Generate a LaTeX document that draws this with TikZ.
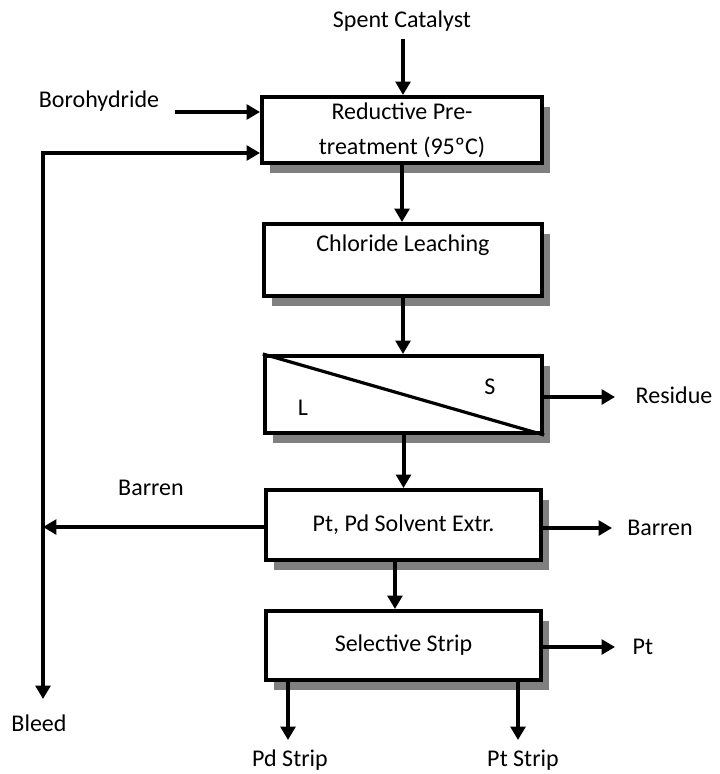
\documentclass[tikz,border=0pt]{standalone}
\usepackage{fontspec}
\setmainfont{Carlito}
\usetikzlibrary{arrows.meta,positioning,calc,shadows}
\definecolor{ink}{HTML}{000000}
\definecolor{shade}{HTML}{808080}

\tikzset{
  unitbox/.style={
    draw=ink,
    line width=3pt,
    fill=white,
    minimum width=208pt,
    align=center,
    text=ink,
    font=\fontsize{18}{26}\selectfont,
    drop shadow={shadow xshift=6pt, shadow yshift=-7.5pt, fill=shade, opacity=1}
  },
  tag/.style={font=\fontsize{18}{26}\selectfont, text=ink, inner sep=1pt},
  flow/.style={draw=ink, line width=3pt, -{Triangle[length=10pt,width=11pt]}}
}

\begin{document}
\begin{tikzpicture}[x=0.75pt,y=-0.75pt]
  \useasboundingbox (0,0) rectangle (719,774);

  % process units
  \node[unitbox, minimum width=210pt, minimum height=49.5pt] (pretreat) at (402,130) {Reductive Pre-\\treatment (95ºC)};
  \node[unitbox, minimum height=54pt] (leach) at (403,260) {Chloride Leaching\\~};
  \node[unitbox, minimum height=57.75pt] (sep) at (403.5,394.5) {};
  \draw[draw=ink, line width=2.4pt] (sep.north west) -- (sep.south east);
  \node[tag] (solid) at (490,387) {S};
  \node[tag] (liquid) at (303,408) {L};
  \node[unitbox, minimum width=206pt, minimum height=52.5pt] (sx) at (403.5,525) {Pt, Pd Solvent Extr.};
  \node[unitbox, minimum width=206pt, minimum height=51.75pt] (strip) at (403.5,645.5) {Selective Strip};

  % streams in and out
  \node[tag] (spent) at (402,21) {Spent Catalyst};
  \node[tag] (boro) at (99,101) {Borohydride};
  \node[tag] (bleed) at (39,723) {Bleed};
  \node[tag] (barrenl) at (151,488) {Barren};
  \node[tag] (barrenr) at (660,528) {Barren};
  \node[tag] (residue) at (674,395) {Residue};
  \node[tag] (pt) at (643,647) {Pt};
  \node[tag] (pdstrip) at (290,760) {Pd Strip};
  \node[tag] (ptstrip) at (523,760) {Pt Strip};

  \coordinate (feedin) at (403,39);
  \coordinate (boroin) at (175,112);
  \coordinate (recycle) at (43,153);
  \coordinate (bleedout) at (43,699);
  \coordinate (barrenin) at (43,527);
  \coordinate (residueout) at (615,397);
  \coordinate (barrenout) at (612,528);
  \coordinate (ptout) at (615,647);
  \coordinate (pdout) at (288,740);
  \coordinate (ptstripout) at (518,740);

  \draw[flow] (feedin) -- (feedin |- pretreat.north);
  \draw[flow] (boroin) -- (boroin -| pretreat.west);
  \draw[flow, line cap=rect] (recycle) -- (recycle -| pretreat.west);
  \draw[flow, line cap=rect] (recycle) -- (bleedout);
  \draw[flow] (pretreat.south) -- (pretreat.south |- leach.north);
  \draw[flow] (leach.south) -- (leach.south |- sep.north);
  \draw[flow] (sep.south) -- (sep.south |- sx.north);
  \draw[flow] ([xshift=-6.4pt]sx.south) -- ([xshift=-6.4pt]sx.south |- strip.north);
  \draw[flow] (residueout -| sep.east) -- (residueout);
  \draw[flow] (barrenin -| sx.west) -- (barrenin);
  \draw[flow] (barrenout -| sx.east) -- (barrenout);
  \draw[flow] (ptout -| strip.east) -- (ptout);
  \draw[flow] (pdout |- strip.south) -- (pdout);
  \draw[flow] (ptstripout |- strip.south) -- (ptstripout);
\end{tikzpicture}
\end{document}
